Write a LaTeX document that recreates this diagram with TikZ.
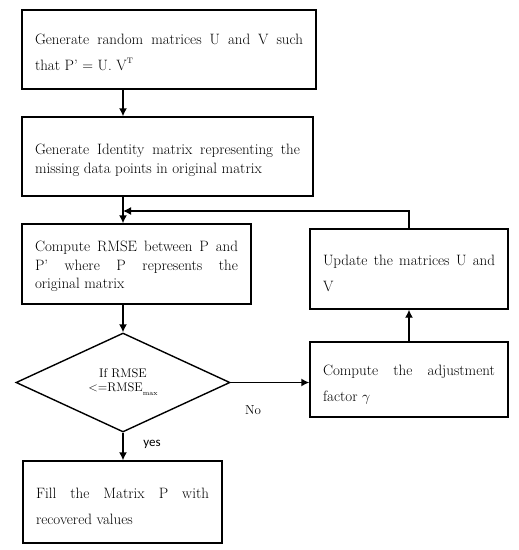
\documentclass[tikz,border=0pt]{standalone}
\usepackage{fontspec}
\newfontfamily\yesfont{Carlito}
\usetikzlibrary{arrows.meta,shapes.geometric}
\newcommand{\topfix}[1]{\rule{0pt}{#1pt}}
\begin{document}
\begin{tikzpicture}[x=1pt,y=-1pt,
  box/.style={draw,line width=1.4pt,rectangle,inner xsep=13pt,inner ysep=0pt,align=justify},
  wide/.style={font=\fontsize{15}{26}\selectfont},
  tight/.style={font=\fontsize{15}{18.5}\selectfont},
  arr/.style={line width=1.4pt,-{Latex[length=8pt,width=8pt]}}]
\useasboundingbox (0,0) rectangle (519,550);
\node[box,wide,text width=268pt,minimum height=79pt] (b1) at (169,49.5)
  {\topfix{17}Generate random matrices U and V such\linebreak that P’ = U. V\raisebox{7pt}{\fontsize{8}{8}\selectfont T}};
\node[box,tight,text width=265pt,minimum height=79pt] (b2) at (167.5,156.5)
  {\topfix{18}Generate Identity matrix representing the\linebreak missing data points in original matrix};
\node[box,tight,text width=203pt,minimum height=80pt] (b3) at (136.5,264)
  {\topfix{16}Compute RMSE between P and\linebreak P’ where P represents the\linebreak original matrix};
\node[box,wide,text width=172pt,minimum height=80pt] (upd) at (409,269)
  {\topfix{20}Update the matrices U and\linebreak V};
\node[box,wide,text width=172pt,minimum height=75pt] (adj) at (409,379.5)
  {\topfix{20}Compute the adjustment\linebreak factor $\gamma$};
\node[box,wide,text width=173pt,minimum height=82pt] (fin) at (122.5,502)
  {\topfix{20}Fill the Matrix P with\linebreak recovered values};
\node[draw,line width=1.4pt,diamond,minimum width=214pt,minimum height=99pt,inner sep=0pt,align=center,
  font=\fontsize{12.5}{14}\selectfont] (d) at (123,382.5)
  {If RMSE\\\textless=RMSE\raisebox{-4pt}{\fontsize{7}{7}\selectfont max}};
\coordinate (j) at (123,211);
\node[font=\fontsize{13}{13}\selectfont] (no) at (253,410) {No};
\node[font=\yesfont\fontsize{13}{13}\selectfont] (yes) at (152,444) {yes};
\draw[arr] (d.north |- b1.south) -- (d.north |- b2.north);
\draw[arr] (d.north |- b2.south) -- (d.north |- b3.north);
\draw[arr] (d.north |- b3.south) -- (d.north);
\draw[arr] (upd.north) |- (j);
\draw[arr] (d.east) -- (adj.west |- d.east);
\draw[arr] (adj.north) -- (upd.south);
\draw[arr] (d.south) -- (d.south |- fin.north);
\end{tikzpicture}
\end{document}
